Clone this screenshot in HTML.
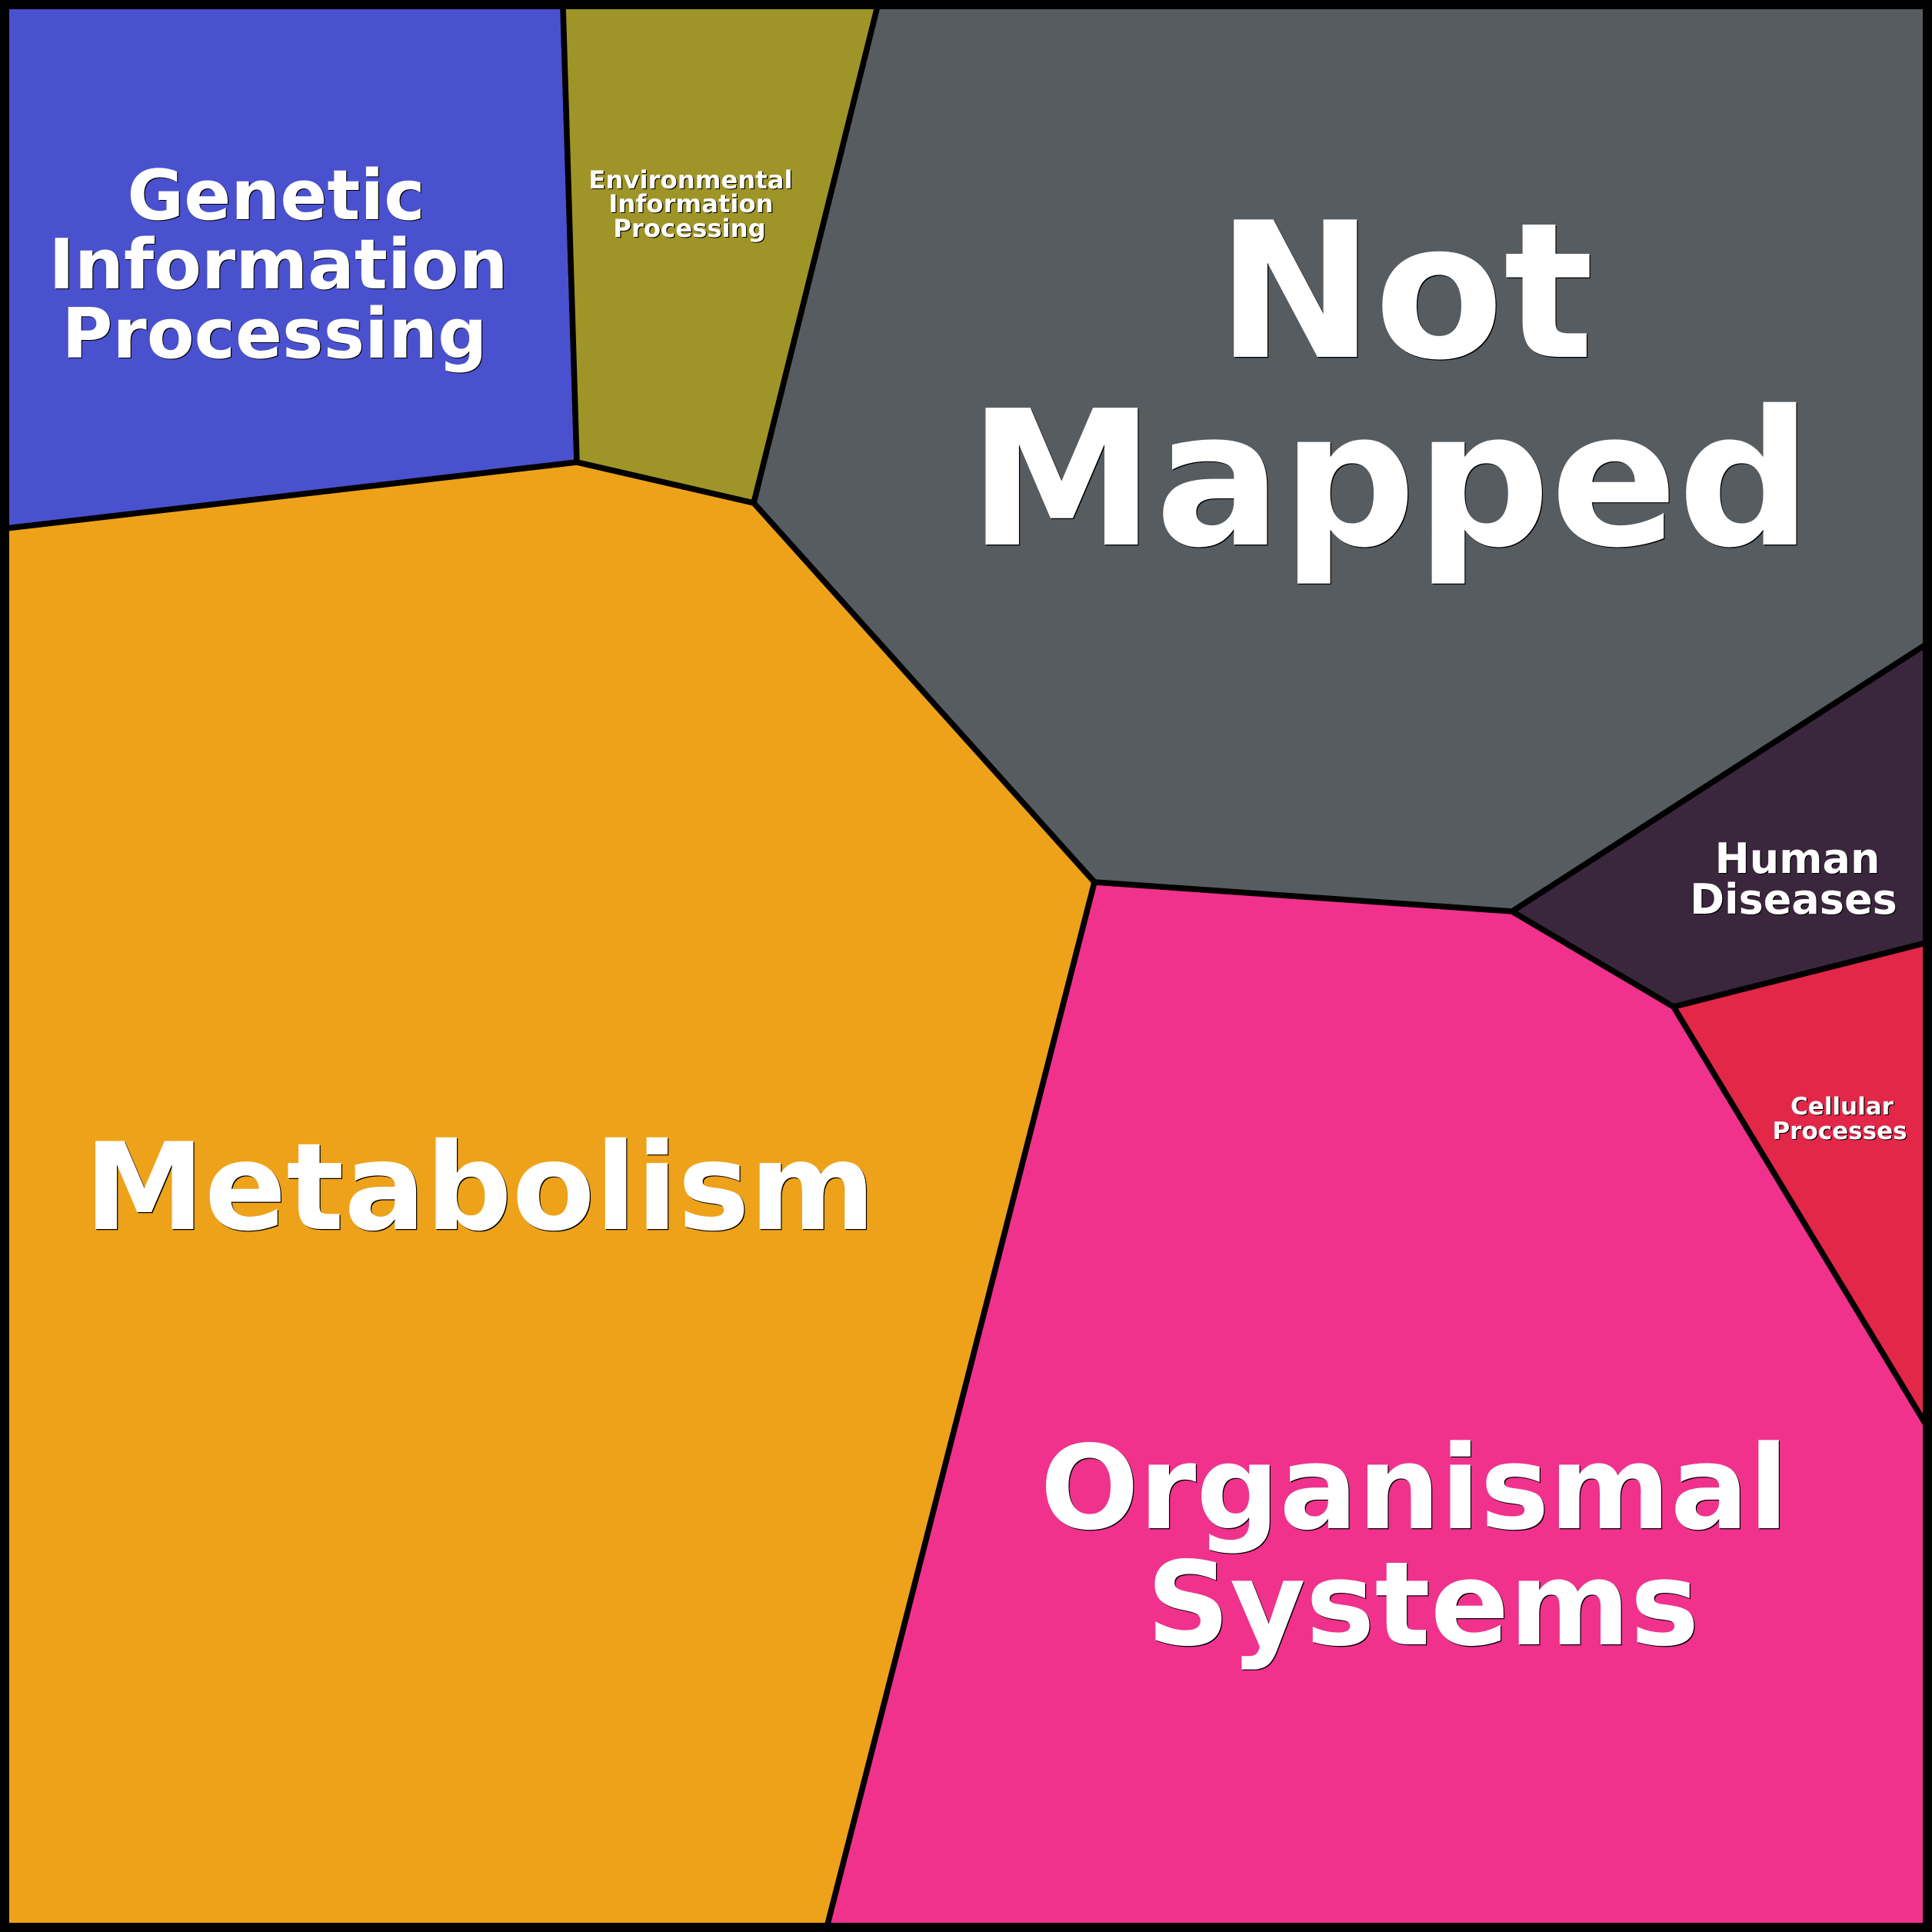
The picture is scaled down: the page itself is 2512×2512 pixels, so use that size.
<!DOCTYPE html>
<html><head><meta charset="utf-8"><style>
html,body{margin:0;padding:0;background:#000}
svg{display:block}
text{font-family:"DejaVu Sans",sans-serif;font-weight:bold;fill:#fff;text-anchor:middle;text-shadow:1.2px 1.2px 0 #000}
</style></head><body>
<svg xmlns="http://www.w3.org/2000/svg" width="2512" height="2512" viewBox="0 0 2512 2512">
<rect width="2512" height="2512" fill="#000"/>
<g stroke="#000" stroke-width="7.5" stroke-linejoin="miter">
<polygon fill="#4A51CE" points="8,8 732,8 750,601 8,687"/>
<polygon fill="#9F9427" points="732,8 1141,8 980,654 750,601"/>
<polygon fill="#575C61" points="1141,8 2504,8 2504,838 1966,1185 1423,1147 980,654"/>
<polygon fill="#EEA219" points="8,687 750,601 980,654 1423,1147 1075.5,2504 8,2504"/>
<polygon fill="#F0328D" points="1423,1147 1966,1185 2176,1309 2504,1852 2504,2504 1075.5,2504"/>
<polygon fill="#3A263D" points="1966,1185 2504,838 2504,1226 2176,1309"/>
<polygon fill="#E22749" points="2176,1309 2504,1226 2504,1852"/>
</g>
<rect x="6" y="6" width="2500" height="2500" fill="none" stroke="#000" stroke-width="12"/>
<g font-size="90">
<text x="359" y="285">Genetic</text>
<text x="362" y="375">Information</text>
<text x="357" y="465">Processing</text>
</g>
<g font-size="32.3">
<text x="898" y="245">Environmental</text>
<text x="898.5" y="276">Information</text>
<text x="896.5" y="308">Processing</text>
</g>
<g font-size="245">
<text x="1827" y="464">Not</text>
<text x="1807.5" y="708" font-size="244">Mapped</text>
</g>
<text font-size="157" x="624" y="1598">Metabolism</text>
<g font-size="151">
<text x="1839" y="1987">Organismal</text>
<text x="1850" y="2138">Systems</text>
</g>
<g font-size="54">
<text x="2337" y="1135">Human</text>
<text x="2332" y="1188">Diseases</text>
</g>
<g font-size="31">
<text x="2395" y="1449">Cellular</text>
<text x="2392" y="1481">Processes</text>
</g>
</svg>
</body></html>
